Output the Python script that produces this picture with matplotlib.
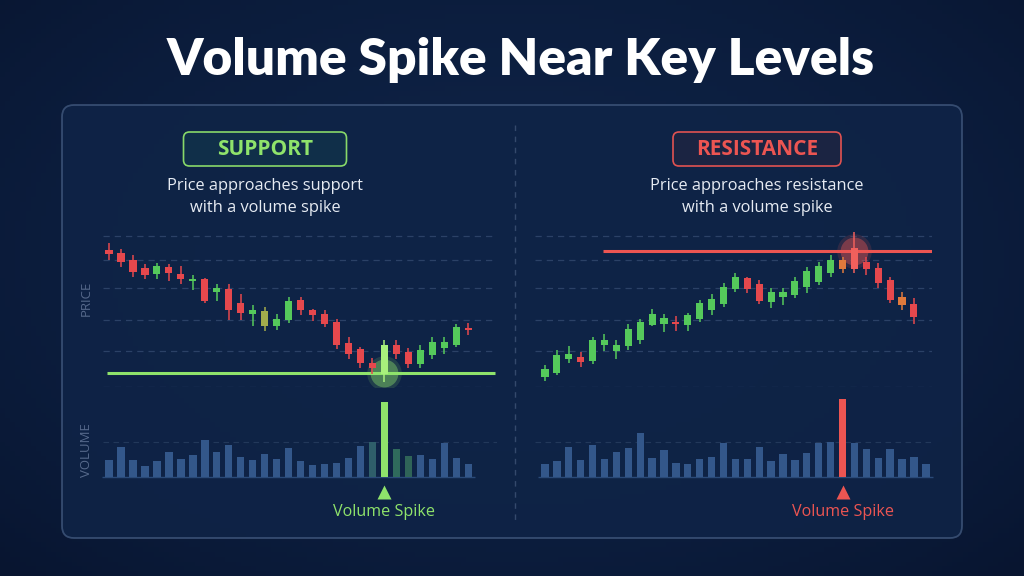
import matplotlib.pyplot as plt
import numpy as np
from matplotlib.patches import FancyBboxPatch

W, H = 1024, 576

# ---- support side (price falls into support, volume spike at the touch) ----
sup_open = [132.0, 131.0, 129.0, 126.5, 124.8, 126.8, 124.8, 122.7, 123.3, 119.3,
            120.3, 116.2, 113.0, 109.2, 109.2, 111.0, 117.0, 114.0, 113.0, 110.5,
            104.3, 102.3, 98.3, 94.8, 103.7, 101.5, 98.0, 100.5, 102.8, 103.5, 108.6]
sup_high = [134.2, 132.2, 130.5, 127.7, 128.0, 127.7, 127.2, 124.5, 123.5, 121.8,
            121.8, 118.7, 115.5, 115.0, 113.0, 118.0, 118.0, 114.5, 114.0, 111.5,
            106.0, 103.0, 99.8, 105.0, 105.0, 102.8, 103.5, 106.0, 106.0, 110.0, 110.2]
sup_low = [129.0, 126.8, 124.0, 123.2, 123.4, 122.8, 121.8, 120.0, 116.0, 116.8,
           111.2, 111.0, 109.2, 107.8, 108.0, 110.2, 112.5, 110.8, 109.0, 102.5,
           99.3, 96.8, 95.0, 92.5, 99.5, 96.8, 96.8, 99.5, 101.0, 103.0, 106.5]
sup_close = [130.8, 128.3, 125.5, 124.5, 127.2, 125.2, 123.2, 123.3, 116.8, 120.5,
             114.2, 113.2, 114.0, 113.7, 111.5, 116.8, 114.0, 112.5, 110.0, 103.5,
             100.8, 98.3, 96.7, 103.5, 101.0, 97.8, 102.0, 104.5, 104.5, 109.0, 108.0]
sup_volume = [50, 90, 52, 34, 48, 75, 55, 65, 112, 75, 97, 60, 50, 68, 55, 88,
              48, 37, 40, 42, 58, 93, 105, 225, 85, 62, 66, 53, 103, 57, 40]
sup_level = 95.2
sup_spike = 23

# ---- resistance side (price rallies into resistance, volume spike at the top) ----
res_open = [94.0, 95.3, 99.5, 100.0, 98.7, 103.5, 101.8, 103.2, 105.0, 109.7,
            109.8, 110.6, 109.5, 111.5, 114.0, 115.8, 120.2, 123.5, 121.8, 116.5,
            118.0, 118.5, 120.8, 122.5, 125.2, 129.0, 132.5, 128.3, 126.5, 123.0,
            118.0, 115.8]
res_high = [97.5, 102.0, 103.2, 101.5, 106.0, 107.0, 105.0, 110.0, 111.5, 114.5,
            113.0, 112.2, 113.2, 117.0, 118.8, 122.2, 125.0, 123.8, 123.0, 120.5,
            120.5, 124.0, 127.0, 128.5, 130.5, 130.0, 137.5, 130.0, 128.0, 124.0,
            119.5, 117.5]
res_low = [92.8, 94.5, 98.2, 97.0, 97.8, 101.8, 99.5, 102.0, 104.0, 109.2,
           107.5, 107.8, 107.8, 110.5, 112.7, 115.0, 119.5, 119.2, 115.8, 114.7,
           115.5, 117.5, 119.2, 121.5, 124.0, 125.0, 125.0, 124.5, 120.5, 116.0,
           114.2, 109.8]
res_close = [96.5, 100.7, 101.0, 98.5, 105.0, 105.2, 103.7, 108.3, 110.5, 113.0,
             111.8, 109.8, 112.5, 116.2, 117.2, 121.0, 123.8, 120.2, 116.7, 119.3,
             119.3, 122.7, 125.8, 127.2, 129.0, 126.2, 126.2, 126.2, 122.0, 117.0,
             115.5, 112.0]
res_volume = [40, 47, 90, 50, 95, 53, 74, 87, 132, 56, 80, 42, 38, 54, 61, 102,
              53, 53, 90, 48, 68, 52, 71, 103, 105, 233, 103, 84, 58, 85, 55, 60, 38]
res_level = 131.8
res_spike_candle = 26
res_spike_volume = 25

price_grid = [91.0, 101.8, 111.2, 120.5, 129.0, 136.2]
volume_grid = [104]

# colours
BG = '#0b1b38'
PANEL = '#0f2447'
GRID = '#2b4166'
UP = '#55c95b'
DOWN = '#e5484d'
GREEN = '#8fe36b'
RED = '#ec5552'
VOL = '#33578a'
MUTED = '#56698b'

plt.rcParams['font.family'] = ['Open Sans', 'DejaVu Sans']


def fig_rect(x0, y0, x1, y1):
    return [x0 / W, 1 - y1 / H, (x1 - x0) / W, (y1 - y0) / H]


def style_ax(ax):
    ax.set_facecolor('none')
    for s in ax.spines.values():
        s.set_visible(False)
    ax.set_xticks([])
    ax.set_yticks([])


def draw_candles(ax, o, h, l, c, tints, spike, spike_color):
    for i in range(len(o)):
        col = UP if c[i] >= o[i] else DOWN
        col = tints.get(i, col)
        if i == spike:
            col = spike_color
        ax.vlines(i, l[i], h[i], color=col, lw=1.1, zorder=3, clip_on=False)
        lo, hi = min(o[i], c[i]), max(o[i], c[i])
        ax.bar(i, max(hi - lo, 0.35), bottom=lo, width=0.6, color=col,
               zorder=4, clip_on=False)


fig = plt.figure(figsize=(W / 100, H / 100), dpi=100)
fig.patch.set_facecolor(BG)

bg = fig.add_axes([0, 0, 1, 1])
bg.set_xlim(0, W)
bg.set_ylim(H, 0)
bg.axis('off')
yy, xx = np.mgrid[0:1:120j, 0:1:200j]
shade = 1 - 0.5 * ((xx - 0.5) ** 2 * 1.2 + (yy - 0.45) ** 2)
bg.imshow(shade, extent=[0, W, H, 0], cmap=plt.matplotlib.colors.LinearSegmentedColormap.from_list(
    'bgc', ['#081530', '#0e2245']), aspect='auto', zorder=0)

panel = FancyBboxPatch((62, 105), 900, 433, boxstyle='round,pad=0,rounding_size=12',
                       fc=PANEL, ec='#3d5479', lw=1.3, alpha=0.85, zorder=1)
bg.add_patch(panel)
bg.plot([515, 515], [125, 520], ls=(0, (4, 4)), color='#34496c', lw=1, zorder=2)

bg.text(521, 60, 'Volume Spike Near Key Levels', color='white', fontsize=37,
        fontweight='heavy', ha='center', va='center', family=['Lato', 'DejaVu Sans'])

# headers
for cx, label, col, fc, sub in [
        (265, 'SUPPORT', GREEN, '#11304a', 'support'),
        (757, 'RESISTANCE', RED, '#1c2542', 'resistance')]:
    bw = 163 if label == 'SUPPORT' else 168
    bg.add_patch(FancyBboxPatch((cx - bw / 2, 132), bw, 34,
                                boxstyle='round,pad=0,rounding_size=6',
                                fc=fc, ec=col, lw=1.2, alpha=0.95, zorder=2))
    bg.text(cx, 149.5, label, color=col, fontsize=15, fontweight='bold',
            ha='center', va='center', zorder=3)
    bg.text(cx, 186, 'Price approaches ' + sub, color='#e6ebf3', fontsize=11.8,
            ha='center', va='center')
    bg.text(cx, 208, 'with a volume spike', color='#e6ebf3', fontsize=11.8,
            ha='center', va='center')

bg.text(86, 298, 'PRICE', color=MUTED, fontsize=9.5, rotation=90, ha='center', va='center')
bg.text(87, 450, 'VOLUME', color=MUTED, fontsize=9.5, rotation=90, ha='center', va='center')

sides = [
    dict(o=sup_open, h=sup_high, l=sup_low, c=sup_close, vol=sup_volume,
         level=sup_level, sc=sup_spike, sv=sup_spike, col=GREEN,
         x0=103, x1=497, xlim=(-0.5, 32.4), tints={13: '#a3ac4c'},
         spike_candle='#a8f07c', vol_tint={22: '#2f5f6a', 24: '#2f6a5c', 25: '#2f6458'}),
    dict(o=res_open, h=res_high, l=res_low, c=res_close, vol=res_volume,
         level=res_level, sc=res_spike_candle, sv=res_spike_volume, col=RED,
         x0=535, x1=932, xlim=(-0.84, 32.52), tints={25: '#e07a3c', 30: '#e07a3c'},
         spike_candle='#f0605c', vol_tint={}),
]

for s in sides:
    ax = fig.add_axes(fig_rect(s['x0'], 230, s['x1'], 387))
    style_ax(ax)
    ax.set_xlim(*s['xlim'])
    ax.set_ylim(91.0, 138.0)
    for g in price_grid:
        ax.axhline(g, color=GRID, lw=0.9, ls=(0, (5, 4)), zorder=1)
    draw_candles(ax, s['o'], s['h'], s['l'], s['c'], s['tints'], s['sc'], s['spike_candle'])
    if s['col'] == GREEN:
        ax.hlines(s['level'], -0.2, 32.2, color=s['col'], lw=2.2, zorder=2)
    else:
        ax.hlines(s['level'], 4.9, 32.5, color=s['col'], lw=2.2, zorder=2)
    ax.scatter([s['sc']], [s['level']], s=620, color=s['col'], alpha=0.15, zorder=2.5, lw=0)
    ax.scatter([s['sc']], [s['level']], s=400, color=s['col'], alpha=0.4, zorder=2.6, lw=0)

    vax = fig.add_axes(fig_rect(s['x0'], 387, s['x1'], 477))
    style_ax(vax)
    vax.set_xlim(*s['xlim'])
    vax.set_ylim(0, 270)
    for g in volume_grid:
        vax.axhline(g, color='#22385a', lw=0.8, ls=(0, (5, 4)), zorder=1)
    n = len(s['vol'])
    vax.hlines(0, -0.6, n - 0.4, color='#2a4a78', lw=1, zorder=1, clip_on=False)
    colors = [s['vol_tint'].get(i, VOL) for i in range(n)]
    colors[s['sv']] = s['col']
    vax.bar(np.arange(n), s['vol'], width=0.62, color=colors, zorder=3)
    vax.plot([s['sv']], [-45], marker='^', ms=10, color=s['col'], mec='none', clip_on=False)
    vax.text(s['sv'], -105, 'Volume Spike', color=s['col'], fontsize=11.6,
             ha='center', va='center', clip_on=False)

fig.savefig('out.png', dpi=100, facecolor=BG)
